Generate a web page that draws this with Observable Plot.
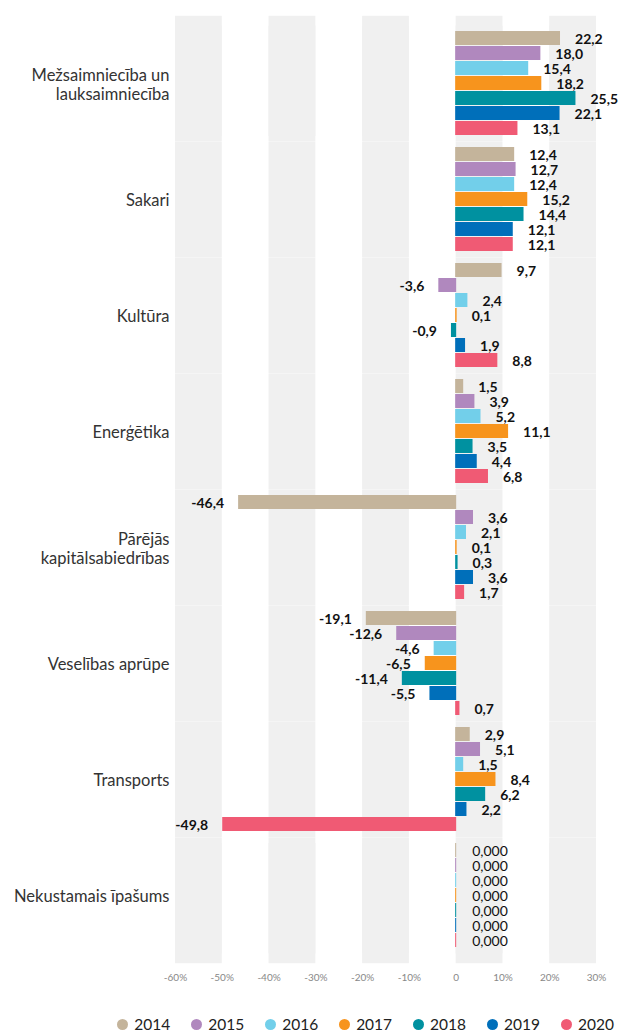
<!DOCTYPE html>
<html>
<head>
<meta charset="utf-8">
<script src="https://cdn.jsdelivr.net/npm/d3@7"></script>
<script src="https://cdn.jsdelivr.net/npm/@observablehq/plot@0.6"></script>
<style>
  html, body { margin: 0; padding: 0; background: #fff; overflow: hidden; }
  body { font-family: Lato, "Open Sans", sans-serif; width: 621px; }
  #legend { display: flex; justify-content: flex-end; align-items: center; height: 38px; padding-right: 7px; box-sizing: border-box; padding-top: 20px; }
  .item { display: flex; align-items: center; margin-left: 21px; font-size: 15.5px; color: #222; }
  .dot { width: 11px; height: 11px; border-radius: 50%; margin-right: 6px; }
</style>
</head>
<body>
<div id="chart"></div>
<div id="legend"></div>
<script>
const categories = [
  "Mežsaimniecība un lauksaimniecība",
  "Sakari",
  "Kultūra",
  "Enerģētika",
  "Pārējās kapitālsabiedrības",
  "Veselības aprūpe",
  "Transports",
  "Nekustamais īpašums"
];
const categoryLabels = [
  "Mežsaimniecība un\nlauksaimniecība",
  "Sakari",
  "Kultūra",
  "Enerģētika",
  "Pārējās\nkapitālsabiedrības",
  "Veselības aprūpe",
  "Transports",
  "Nekustamais īpašums"
];
const years = ["2014", "2015", "2016", "2017", "2018", "2019", "2020"];
const colors = ["#c4b49b", "#b088be", "#72cfea", "#f7941d", "#0091a0", "#006fba", "#f05a74"];

const v2014 = [22.2, 12.4, 9.7, 1.5, -46.4, -19.1, 2.9, 0];
const v2015 = [18.0, 12.7, -3.6, 3.9, 3.6, -12.6, 5.1, 0];
const v2016 = [15.4, 12.4, 2.4, 5.2, 2.1, -4.6, 1.5, 0];
const v2017 = [18.2, 15.2, 0.1, 11.1, 0.1, -6.5, 8.4, 0];
const v2018 = [25.5, 14.4, -0.9, 3.5, 0.3, -11.4, 6.2, 0];
const v2019 = [22.1, 12.1, 1.9, 4.4, 3.6, -5.5, 2.2, 0];
const v2020 = [13.1, 12.1, 8.8, 6.8, 1.7, 0.7, -49.8, 0];

const xTicks = [-60, -50, -40, -30, -20, -10, 0, 10, 20, 30];
const stripeStarts = [-60, -40, -20, 0, 20];

const series = [v2014, v2015, v2016, v2017, v2018, v2019, v2020];
const rows = [];
categories.forEach((c, j) => {
  years.forEach((y, i) => rows.push({cat: c, year: y, value: series[i][j]}));
});
const stripes = categories.flatMap(c => stripeStarts.map(s => ({cat: c, s})));
const first = categories[0], last = categories[categories.length - 1];
const fmt = d => d.value === 0 ? "0,000" : d.value.toFixed(1).replace(".", ",");
const labelOf = Object.fromEntries(categories.map((c, i) => [c, categoryLabels[i]]));

const stripeOpts = {x1: "s", x2: d => d.s + 10, fy: "cat", fill: "#f0f0f0"};

const chart = Plot.plot({
  width: 621,
  height: 995,
  marginLeft: 175,
  marginRight: 25,
  marginTop: 14,
  marginBottom: 29,
  style: {fontFamily: "Lato, 'Open Sans', sans-serif", background: "#fff"},
  x: {domain: [-60, 30]},
  y: {domain: years, paddingInner: 0.04, paddingOuter: 0, axis: null},
  fy: {domain: categories, paddingInner: 0.091, paddingOuter: 0.13},
  color: {domain: years, range: colors},
  marks: [
    Plot.rect(stripes, {...stripeOpts, insetTop: -5.4, insetBottom: -5.4}),
    Plot.rect(stripes.filter(d => d.cat === first), {...stripeOpts, insetTop: -15.2}),
    Plot.rect(stripes.filter(d => d.cat === last), {...stripeOpts, insetBottom: -15.2}),
    Plot.barX(rows, {x: "value", y: "year", fy: "cat", fill: "year", insetLeft: -0.5, insetRight: -0.5}),
    Plot.text(rows.filter(d => d.value > 0), {x: "value", y: "year", fy: "cat", text: fmt, dx: 15, dy: 1, textAnchor: "start", fontWeight: 700, fontSize: 14, fill: "#111"}),
    Plot.text(rows.filter(d => d.value < 0), {x: "value", y: "year", fy: "cat", text: fmt, dx: -15, dy: 1, textAnchor: "end", fontWeight: 700, fontSize: 14, fill: "#111"}),
    Plot.text(rows.filter(d => d.value === 0), {x: "value", y: "year", fy: "cat", text: fmt, dx: 16, dy: 1, textAnchor: "start", fontSize: 14, fill: "#111"}),
    Plot.axisFy({anchor: "left", label: null, tickSize: 0, tickPadding: 6, fontSize: 16.5, lineHeight: 1.15, fill: "#333", tickFormat: d => labelOf[d]}),
    Plot.axisX({ticks: xTicks, label: null, tickSize: 0, tickPadding: 25, fontSize: 10, fill: "#888", tickFormat: d => d === 0 ? "0" : d + "%"})
  ]
});
document.getElementById("chart").appendChild(chart);

const legend = document.getElementById("legend");
years.forEach((y, i) => {
  const item = document.createElement("div");
  item.className = "item";
  const dot = document.createElement("span");
  dot.className = "dot";
  dot.style.background = colors[i];
  const t = document.createElement("span");
  t.textContent = y;
  item.appendChild(dot);
  item.appendChild(t);
  legend.appendChild(item);
});
</script>
</body>
</html>
